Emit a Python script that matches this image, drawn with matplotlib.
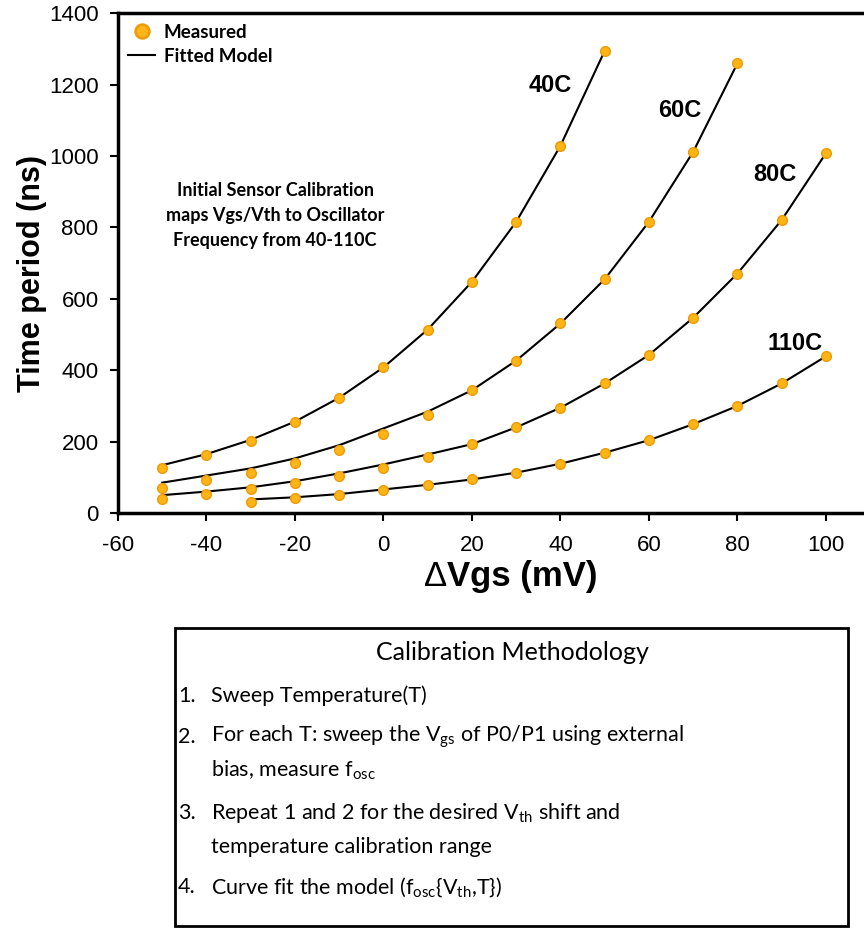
import matplotlib
matplotlib.use("Agg")
import matplotlib.pyplot as plt
from matplotlib.lines import Line2D
from matplotlib.patches import Rectangle

plt.rcParams['mathtext.default'] = 'regular'
plt.rcParams['axes.unicode_minus'] = False

# ---- data ----
x40 = [-50, -40, -30, -20, -10, 0, 10, 20, 30, 40, 50]
m40 = [125, 162, 203, 255, 323, 409, 514, 648, 816, 1029, 1295]
f40 = [134, 165, 205, 256, 323, 408, 514, 648, 816, 1029, 1295]

x60 = [-50, -40, -30, -20, -10, 0, 10, 20, 30, 40, 50, 60, 70, 80]
m60 = [71, 92, 113, 141, 176, 222, 274, 344, 427, 531, 655, 816, 1012, 1260]
f60 = [85, 105, 125, 153, 190, 237, 284, 344, 427, 531, 655, 816, 1012, 1260]

x80 = [-50, -40, -30, -20, -10, 0, 10, 20, 30, 40, 50, 60, 70, 80, 90, 100]
m80 = [40, 53, 66, 83, 103, 127, 158, 193, 240, 295, 363, 443, 547, 671, 821, 1008]
f80 = [50, 60, 72, 89, 111, 136, 164, 193, 240, 295, 363, 443, 547, 671, 821, 1008]

x110 = [-30, -20, -10, 0, 10, 20, 30, 40, 50, 60, 70, 80, 90, 100]
m110 = [32, 41, 50, 64, 78, 94, 113, 138, 169, 204, 249, 300, 363, 439]
f110 = [38, 44, 53, 66, 79, 94, 113, 138, 169, 204, 249, 300, 363, 439]

series_labels = ["40C", "60C", "80C", "110C"]
label_pos = [(37.6, 1199), (67, 1129), (88.5, 947), (93, 476)]

xticks = [-60, -40, -20, 0, 20, 40, 60, 80, 100]
yticks = [0, 200, 400, 600, 800, 1000, 1200, 1400]

method_title = "Calibration Methodology"
method_items = [
    ("1.", ["Sweep Temperature(T)"]),
    ("2.", ["For each T: sweep the V$_{gs}$ of P0/P1 using external",
            "bias, measure f$_{osc}$"]),
    ("3.", ["Repeat 1 and 2 for the desired V$_{th}$ shift and",
            "temperature calibration range"]),
    ("4.", ["Curve fit the model (f$_{osc}${V$_{th}$,T})"]),
]

# ---- figure ----
W, H = 864, 934
fig = plt.figure(figsize=(W / 100, H / 100), dpi=100)
ax = fig.add_axes([118 / W, (H - 513) / H, 1 - 118 / W, (513 - 13.3) / H])

def fy(py):
    return 1 - py / H

mface = "#FDB515"
medge = "#EE9A0A"
for xs, ms, fs in [(x40, m40, f40), (x60, m60, f60), (x80, m80, f80), (x110, m110, f110)]:
    ax.plot(xs, fs, color="black", lw=1.5, zorder=2)
    ax.plot(xs, ms, "o", ms=7, mfc=mface, mec=medge, mew=1.0, zorder=3)

for lab, (lx, ly) in zip(series_labels, label_pos):
    ax.text(lx, ly, lab, ha="center", va="center", fontsize=17,
            fontweight="bold", family="Liberation Sans")

ax.text(-24.5, 833, "Initial Sensor Calibration\nmaps Vgs/Vth to Oscillator\nFrequency from 40-110C",
        ha="center", va="center", fontsize=13, fontweight="bold", family="Lato",
        linespacing=1.55)

ax.set_xlim(-60, 108.6)
ax.set_ylim(0, 1400)
ax.set_xticks(xticks)
ax.set_yticks(yticks)
ax.tick_params(labelsize=16, width=1.5, length=6, direction="out")
ax.tick_params(axis="x", pad=10)
ax.tick_params(axis="y", pad=8)
for lbl in ax.get_xticklabels() + ax.get_yticklabels():
    lbl.set_family("Liberation Sans")
for s in ["left", "bottom", "top"]:
    ax.spines[s].set_linewidth(2.5)
ax.spines["right"].set_visible(False)

# axis titles
fig.text(447 / W, fy(586), "Vgs (mV)", ha="left", va="baseline", fontsize=25,
         fontweight="bold", family="Liberation Sans")
fig.text(447 / W, fy(586), "Δ", ha="right", va="baseline", fontsize=25,
         fontweight="normal", family="Liberation Sans")
fig.text(32 / W, fy(273), "Time period (ns)", ha="center", va="center", rotation=90,
         fontsize=22, fontweight="bold", family="Liberation Sans")

handles = [
    Line2D([], [], ls="none", marker="o", ms=10, mfc=mface, mec=medge, mew=1.8),
    Line2D([], [], color="black", lw=1.5),
]
leg = ax.legend(handles, ["Measured", "Fitted Model"], loc="upper left", frameon=False,
                prop={"family": "Lato", "weight": "bold", "size": 13.5},
                handlelength=1.45, handletextpad=0.45, borderaxespad=0, borderpad=0,
                labelspacing=0.35, bbox_to_anchor=(128 / W, fy(24)),
                bbox_transform=fig.transFigure)

# ---- methodology box ----
fig.patches.append(Rectangle((175 / W, fy(926)), (848 - 175) / W, (926 - 628) / H,
                             transform=fig.transFigure, fill=False, ec="black", lw=2))

fig.text(512 / W, fy(652), method_title, ha="center", va="center", fontsize=18, family="Lato")
rows = [696, 737, 770, 813, 847, 887]
i = 0
for num, lines in method_items:
    fig.text(178 / W, fy(rows[i]), num, ha="left", va="center", fontsize=15.5, family="Lato")
    for ln in lines:
        fig.text(211 / W, fy(rows[i]), ln, ha="left", va="center", fontsize=15.5, family="Lato")
        i += 1

fig.savefig("out.png", dpi=100)
